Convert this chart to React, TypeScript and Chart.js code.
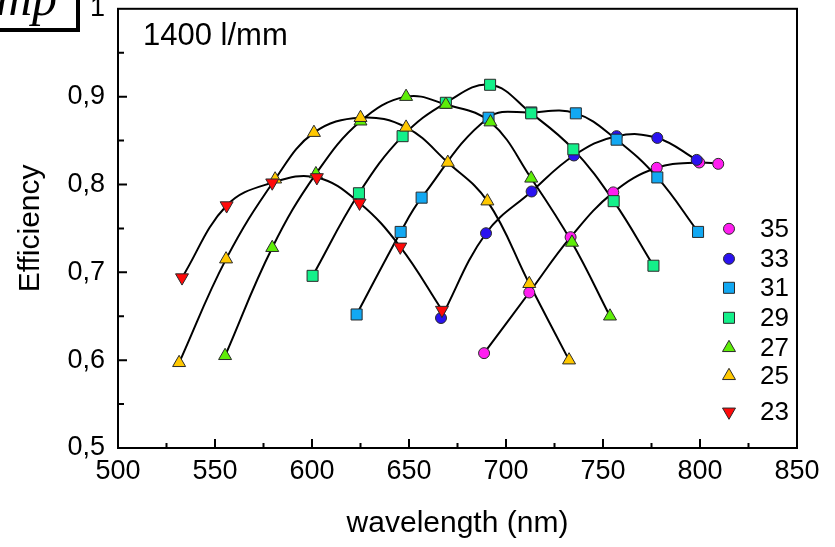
import React, { useEffect, useRef } from 'react';
import { Chart, registerables } from 'chart.js';

Chart.register(...registerables);

const FONT = "'Liberation Sans', Arial, sans-serif";

// ---- data ----
const xTickValues = [500, 550, 600, 650, 700, 750, 800, 850];
const yTickValues = [0.5, 0.6, 0.7, 0.8, 0.9, 1];
const seriesLabels = ['35', '33', '31', '29', '27', '25', '23'];
const gratingLabel = '1400 l/mm';
const xTitle = 'wavelength (nm)';
const yTitle = 'Efficiency';
const cornerText = 'mp';

const wl35 = [688.7, 712, 733.3, 755.3, 777.7, 799.6, 809.4];
const eff35 = [0.608, 0.677, 0.740, 0.791, 0.819, 0.825, 0.8235];

const wl33 = [666.5, 689.7, 713.2, 735, 757, 778, 798.3];
const eff33 = [0.648, 0.7445, 0.792, 0.833, 0.855, 0.853, 0.828];

const wl31 = [623, 645.7, 656.5, 691, 713, 736, 757, 778, 799];
const eff31 = [0.652, 0.746, 0.785, 0.876, 0.882, 0.881, 0.851, 0.808, 0.746];

const wl29 = [600.3, 624.2, 646.7, 669, 691.8, 713, 734.7, 755.5, 776];
const eff29 = [0.696, 0.790, 0.855, 0.893, 0.9135, 0.881, 0.840, 0.781, 0.7075];

const wl27 = [555.2, 579.5, 602, 625, 648.5, 669, 692, 713, 734, 753.6];
const eff27 = [0.605, 0.728, 0.812, 0.872, 0.900, 0.891, 0.871, 0.807, 0.734, 0.650];

const wl25 = [531.5, 555.7, 581, 601, 625, 648.5, 670, 690.4, 712, 732.5];
const eff25 = [0.597, 0.715, 0.806, 0.859, 0.876, 0.865, 0.825, 0.781, 0.687, 0.600];

const wl23 = [533, 556, 579.5, 602.5, 624.5, 645.5, 667];
const eff23 = [0.694, 0.776, 0.802, 0.808, 0.779, 0.729, 0.657];

// ---- styles ----
type Style = { shape: 'circle' | 'rect' | 'triangle'; color: string; r: number; rot: number };
const styles: Record<string, Style> = {
  '35': { shape: 'circle', color: '#FF1EF0', r: 5.5, rot: 0 },
  '33': { shape: 'circle', color: '#2A12F0', r: 5.5, rot: 0 },
  '31': { shape: 'rect', color: '#12A8F2', r: 7.8, rot: 0 },
  '29': { shape: 'rect', color: '#14F08A', r: 7.8, rot: 0 },
  '27': { shape: 'triangle', color: '#5EEE08', r: 7.5, rot: 0 },
  '25': { shape: 'triangle', color: '#FFC800', r: 7.5, rot: 0 },
  '23': { shape: 'triangle', color: '#FF0A0A', r: 7.5, rot: 180 },
};
const seriesData: Record<string, [number[], number[]]> = {
  '35': [wl35, eff35],
  '33': [wl33, eff33],
  '31': [wl31, eff31],
  '29': [wl29, eff29],
  '27': [wl27, eff27],
  '25': [wl25, eff25],
  '23': [wl23, eff23],
};
const legendOffsets = [220, 250, 279, 309, 339, 367, 403];

function drawMarker(ctx: CanvasRenderingContext2D, st: Style, x: number, y: number) {
  ctx.save();
  ctx.beginPath();
  if (st.shape === 'circle') {
    ctx.arc(x, y, st.r, 0, Math.PI * 2);
  } else if (st.shape === 'rect') {
    const s = st.r * Math.SQRT1_2;
    ctx.rect(x - s, y - s, 2 * s, 2 * s);
  } else {
    let a = (st.rot * Math.PI) / 180;
    ctx.moveTo(x + Math.sin(a) * st.r, y - Math.cos(a) * st.r);
    a += (2 * Math.PI) / 3;
    ctx.lineTo(x + Math.sin(a) * st.r, y - Math.cos(a) * st.r);
    a += (2 * Math.PI) / 3;
    ctx.lineTo(x + Math.sin(a) * st.r, y - Math.cos(a) * st.r);
    ctx.closePath();
  }
  ctx.fillStyle = st.color;
  ctx.fill();
  ctx.lineWidth = 1;
  ctx.strokeStyle = '#2a2a2a';
  ctx.stroke();
  ctx.restore();
}

const decorPlugin = {
  id: 'decor',
  afterDraw(chart: any) {
    const ctx: CanvasRenderingContext2D = chart.ctx;
    const { left, right, top, bottom } = chart.chartArea;
    const xs = chart.scales.x;
    const ys = chart.scales.y;
    ctx.save();
    ctx.strokeStyle = '#000';
    ctx.lineWidth = 2;
    ctx.strokeRect(left, top, right - left, bottom - top);
    // inward ticks
    ctx.beginPath();
    for (let i = 0; i < xTickValues.length; i++) {
      const v = xTickValues[i];
      const p = xs.getPixelForValue(v);
      if (i > 0 && i < xTickValues.length - 1) {
        ctx.moveTo(p, bottom);
        ctx.lineTo(p, bottom - 9);
      }
      if (i < xTickValues.length - 1) {
        const m = xs.getPixelForValue((v + xTickValues[i + 1]) / 2);
        ctx.moveTo(m, bottom);
        ctx.lineTo(m, bottom - 5);
      }
    }
    for (let i = 0; i < yTickValues.length; i++) {
      const v = yTickValues[i];
      const p = ys.getPixelForValue(v);
      if (i > 0 && i < yTickValues.length - 1) {
        ctx.moveTo(left, p);
        ctx.lineTo(left + 9, p);
      }
      if (i < yTickValues.length - 1) {
        const m = ys.getPixelForValue((v + yTickValues[i + 1]) / 2);
        ctx.moveTo(left, m);
        ctx.lineTo(left + 6, m);
      }
    }
    ctx.stroke();

    // legend
    ctx.font = `26px ${FONT}`;
    ctx.fillStyle = '#000';
    ctx.textBaseline = 'middle';
    ctx.textAlign = 'left';
    seriesLabels.forEach((lab, i) => {
      const y = top + legendOffsets[i];
      drawMarker(ctx, styles[lab], right - 68, y);
      ctx.fillText(lab, right - 37, y + 1);
    });

    // grating label
    ctx.font = `31px ${FONT}`;
    ctx.textBaseline = 'alphabetic';
    ctx.fillText(gratingLabel, left + 25, top + 36);

    // corner box
    ctx.lineWidth = 4;
    ctx.strokeRect(-10, -10, 88, 40);
    ctx.font = `italic 50px 'Liberation Serif', 'DejaVu Serif', serif`;
    ctx.fillText(cornerText, -4, 15);
    ctx.restore();
  },
};

export default function App() {
  const ref = useRef<HTMLCanvasElement>(null);
  useEffect(() => {
    if (!ref.current) return;
    const order = [...seriesLabels].reverse(); // 23 first so it is drawn on top
    const markerSets = order.map((lab) => {
      const [wl, eff] = seriesData[lab];
      const st = styles[lab];
      return {
        label: lab,
        data: wl.map((x, i) => ({ x, y: eff[i] })),
        showLine: false,
        pointStyle: st.shape,
        pointRadius: st.r,
        pointRotation: st.rot,
        pointBackgroundColor: st.color,
        pointBorderColor: '#2a2a2a',
        pointBorderWidth: 1,
        order: 0,
      };
    });
    const lineSets = order.map((lab) => {
      const [wl, eff] = seriesData[lab];
      return {
        label: lab + ' fit',
        data: wl.map((x, i) => ({ x, y: eff[i] })),
        showLine: true,
        borderColor: '#000',
        borderWidth: 2,
        tension: 0.4,
        pointRadius: 0,
        order: 1,
      };
    });
    const chart = new Chart(ref.current, {
      type: 'scatter',
      data: { datasets: [...markerSets, ...lineSets] as any },
      options: {
        responsive: false,
        animation: false,
        devicePixelRatio: 1,
        layout: { padding: { top: 7, right: 38, left: 0, bottom: 0 } },
        plugins: { legend: { display: false }, tooltip: { enabled: false } },
        scales: {
          x: {
            type: 'linear',
            min: xTickValues[0],
            max: xTickValues[xTickValues.length - 1],
            afterBuildTicks: (s: any) => {
              s.ticks = xTickValues.map((value) => ({ value }));
            },
            afterFit: (s: any) => {
              s.height = 99;
              s.paddingLeft = 0;
              s.paddingRight = 0;
            },
            grid: { display: false, drawTicks: false },
            border: { display: false },
            ticks: {
              font: { size: 27, family: FONT },
              color: '#000',
              padding: 7,
              maxRotation: 0,
              autoSkip: false,
            },
            title: {
              display: true,
              text: xTitle,
              color: '#000',
              font: { size: 30, family: FONT },
              padding: { top: 0, bottom: 5 },
            },
          },
          y: {
            type: 'linear',
            min: yTickValues[0],
            max: yTickValues[yTickValues.length - 1],
            afterBuildTicks: (s: any) => {
              s.ticks = yTickValues.map((value) => ({ value }));
            },
            afterFit: (s: any) => {
              s.width = 118;
              s.paddingTop = 0;
              s.paddingBottom = 0;
            },
            grid: { display: false, drawTicks: false },
            border: { display: false },
            ticks: {
              font: { size: 27, family: FONT },
              color: '#000',
              padding: 13,
              callback: (v: any) => (v === 1 ? '1' : Number(v).toFixed(1).replace('.', ',')),
            },
            title: {
              display: true,
              text: yTitle,
              color: '#000',
              font: { size: 30, family: FONT },
              padding: { top: 13, bottom: 0 },
            },
          },
        },
      },
      plugins: [decorPlugin],
    });
    return () => chart.destroy();
  }, []);
  return (
    <div style={{ position: 'absolute', left: 0, top: 0, width: 835, height: 547, background: '#fff' }}>
      <canvas ref={ref} width={835} height={547} style={{ display: 'block' }} />
    </div>
  );
}
